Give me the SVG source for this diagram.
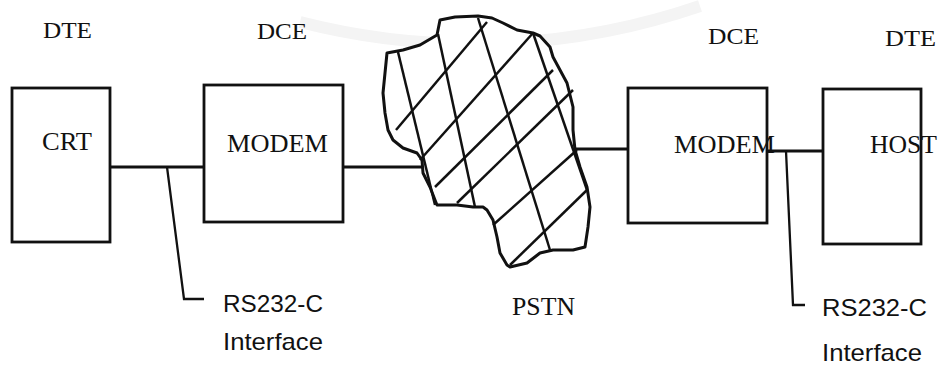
<svg xmlns="http://www.w3.org/2000/svg" width="939" height="366" viewBox="0 0 939 366">
  <style>
    .box { fill: #ffffff; stroke: #111111; stroke-width: 2.8; }
    .wire { fill: none; stroke: #111111; stroke-width: 2.8; stroke-linejoin: round; }
    .lead { fill: none; stroke: #111111; stroke-width: 2.3; }
    .serif { font-family: "Liberation Serif", "Times New Roman", serif; fill: #111111; }
    .sans { font-family: "Liberation Sans", Arial, sans-serif; fill: #111111; }
    .cloud { fill: #ffffff; stroke: #111111; stroke-width: 3; stroke-linejoin: round; }
    .hatch { fill: none; stroke: #111111; stroke-width: 2.5; }
  </style>

  <rect width="939" height="366" fill="#ffffff"/>
  <!-- faint background arc -->
  <path d="M 300 22 A 697 697 0 0 0 700 6" fill="none" stroke="#f4f4f4" stroke-width="12"/>

  <!-- station role labels -->
  <g id="labels-top">
    <text class="serif" x="43" y="38" font-size="24" textLength="49" lengthAdjust="spacingAndGlyphs">DTE</text>
    <text class="serif" x="257" y="39" font-size="24" textLength="50" lengthAdjust="spacingAndGlyphs">DCE</text>
    <text class="serif" x="708" y="44" font-size="24" textLength="51" lengthAdjust="spacingAndGlyphs">DCE</text>
    <text class="serif" x="885" y="46" font-size="24" textLength="51" lengthAdjust="spacingAndGlyphs">DTE</text>
  </g>

  <!-- connectors -->
  <g id="connectors">
    <line class="wire" x1="110" y1="167" x2="204" y2="167"/>
    <line class="wire" x1="343" y1="167" x2="424" y2="167"/>
    <line class="wire" x1="573" y1="149" x2="628" y2="149"/>
    <line class="wire" x1="767" y1="151" x2="823" y2="151"/>
    <!-- interface leaders -->
    <polyline class="lead" points="167,167 184,299 204,299"/>
    <polyline class="lead" points="786,151 793,305 805,305"/>
  </g>

  <g id="crt">
    <rect class="box" x="12" y="88" width="98" height="154"/>
    <text class="serif" x="42" y="150" font-size="25" textLength="50" lengthAdjust="spacingAndGlyphs">CRT</text>
  </g>

  <g id="modem-left">
    <rect class="box" x="204" y="85" width="139" height="137"/>
    <text class="serif" x="227" y="152" font-size="25" textLength="101" lengthAdjust="spacingAndGlyphs">MODEM</text>
  </g>

  <g id="pstn">
    <path class="cloud" d="M 387 53 L 403 50 L 420 45 L 437 35 L 440 20 L 455 17 L 478 16 L 492 18 L 503 23 L 517 30 L 533 33 L 540 36 L 550 47 L 553 57 L 560 70 L 567 83 L 573 107 L 573 130 L 575 150 L 580 167 L 587 187 L 590 207 L 588 227 L 585 247 L 573 250 L 553 250 L 540 253 L 527 263 L 510 267 L 507 265 L 500 253 L 497 237 L 493 220 L 487 210 L 483 207 L 473 207 L 457 205 L 437 205 L 435 200 L 430 187 L 423 173 L 422 160 L 417 153 L 403 148 L 393 140 L 388 130 L 385 113 L 383 93 L 385 73 Z"/>
    <line class="hatch" x1="396" y1="130" x2="487" y2="22"/>
    <line class="hatch" x1="420" y1="160" x2="533" y2="33"/>
    <line class="hatch" x1="435" y1="187" x2="553" y2="70"/>
    <line class="hatch" x1="457" y1="203" x2="573" y2="90"/>
    <line class="hatch" x1="493" y1="225" x2="577" y2="150"/>
    <line class="hatch" x1="510" y1="265" x2="587" y2="190"/>
    <line class="hatch" x1="398" y1="52" x2="435" y2="205"/>
    <line class="hatch" x1="438" y1="34" x2="475" y2="207"/>
    <line class="hatch" x1="478" y1="18" x2="550" y2="250"/>
    <line class="hatch" x1="533" y1="33" x2="587" y2="190"/>
    <text class="serif" x="512" y="315" font-size="25" textLength="63" lengthAdjust="spacingAndGlyphs">PSTN</text>
  </g>

  <g id="modem-right">
    <rect class="box" x="628" y="88" width="139" height="135"/>
    <text class="serif" x="674" y="153" font-size="25" textLength="101" lengthAdjust="spacingAndGlyphs">MODEM</text>
  </g>

  <g id="host">
    <rect class="box" x="823" y="89" width="98" height="155"/>
    <text class="serif" x="870" y="153" font-size="25" textLength="67" lengthAdjust="spacingAndGlyphs">HOST</text>
  </g>

  <g id="interface-left">
    <text class="sans" x="223" y="312" font-size="24" textLength="100" lengthAdjust="spacingAndGlyphs">RS232-C</text>
    <text class="sans" x="223" y="350" font-size="24" textLength="100" lengthAdjust="spacingAndGlyphs">Interface</text>
  </g>

  <g id="interface-right">
    <text class="sans" x="822" y="316" font-size="24" textLength="105" lengthAdjust="spacingAndGlyphs">RS232-C</text>
    <text class="sans" x="822" y="361" font-size="24" textLength="100" lengthAdjust="spacingAndGlyphs">Interface</text>
  </g>
</svg>
